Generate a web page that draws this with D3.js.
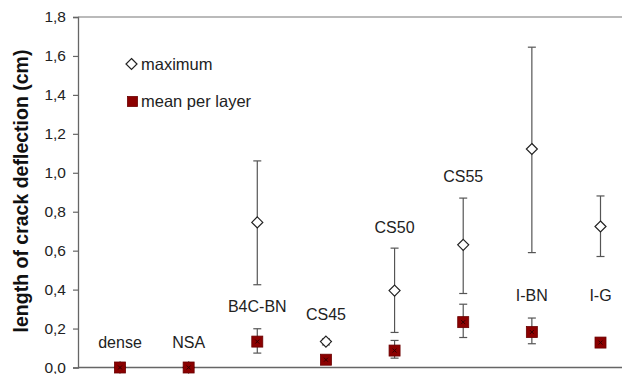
<!DOCTYPE html>
<html>
<head>
<meta charset="utf-8">
<script src="https://cdn.jsdelivr.net/npm/d3@7"></script>
<style>
  body { margin: 0; background: #fff; }
  svg { display: block; font-family: "Liberation Sans", Arial, sans-serif; }
</style>
</head>
<body>
<svg></svg>
<script>
const categories = ["dense", "NSA", "B4C-BN", "CS45", "CS50", "CS55", "I-BN", "I-G"];
// maximum crack deflection with its range
const maxValues = [0, 0, 0.745, 0.133, 0.395, 0.63, 1.122, 0.724];
const maxLow = [0, 0, 0.425, 0.116, 0.18, 0.38, 0.59, 0.57];
const maxHigh = [0, 0, 1.061, 0.147, 0.613, 0.87, 1.645, 0.881];
// mean per layer with its range
const meanValues = [0, 0, 0.133, 0.04, 0.087, 0.233, 0.182, 0.128];
const meanLow = [0, 0, 0.074, 0.04, 0.048, 0.154, 0.122, 0.128];
const meanHigh = [0, 0, 0.199, 0.04, 0.139, 0.325, 0.254, 0.15];
// height (in cm) of each category name
const labelAt = [0.101, 0.101, 0.287, 0.245, 0.69, 0.955, 0.339, 0.339];
const yTicks = [0, 0.2, 0.4, 0.6, 0.8, 1.0, 1.2, 1.4, 1.6, 1.8];

const width = 622;
const height = 374;
const marginLeft = 78;
const plotTop = 17;
const plotBottom = 367.5;

const svg = d3.select("svg").attr("width", width).attr("height", height);

const x = d3.scalePoint().domain(categories).range([120, 600.5]);
const y = d3.scaleLinear().domain([0, 1.8]).range([plotBottom, plotTop]);

const fmt = (d) => d3.format(".1f")(d).replace(".", ",");

// axes
const yAxis = d3.axisLeft(y).tickValues(yTicks).tickFormat(fmt).tickSize(5).tickPadding(7);
const gy = svg.append("g").attr("transform", `translate(${marginLeft},0)`).call(yAxis);
gy.select(".domain").attr("stroke", "#666").attr("stroke-width", 1.3);
gy.selectAll(".tick line").attr("stroke", "#666").attr("stroke-width", 1.2);
gy.selectAll(".tick text").attr("fill", "#222").style("font-size", "15.5px");

svg.append("line")
  .attr("x1", marginLeft).attr("x2", width).attr("y1", y(0)).attr("y2", y(0))
  .attr("stroke", "#666").attr("stroke-width", 1.6);
svg.append("line")
  .attr("x1", marginLeft).attr("x2", width).attr("y1", y(1.8)).attr("y2", y(1.8))
  .attr("stroke", "#777").attr("stroke-width", 1.2);

svg.append("text")
  .attr("transform", "translate(28, 191) rotate(-90)")
  .attr("text-anchor", "middle")
  .attr("font-weight", "bold")
  .attr("fill", "#111")
  .style("font-size", "19.5px")
  .text("length of crack deflection (cm)");

const rows = categories.map((c, i) => ({
  c, max: maxValues[i], maxLo: maxLow[i], maxHi: maxHigh[i],
  mean: meanValues[i], meanLo: meanLow[i], meanHi: meanHigh[i], lab: labelAt[i]
}));

// error bars
const drawErr = (lo, hi) => {
  const g = svg.append("g").attr("stroke", "#555").attr("stroke-width", 1.2);
  rows.filter((d) => d[hi] > d[lo]).forEach((d) => {
    const cx = x(d.c);
    g.append("line").attr("x1", cx).attr("x2", cx).attr("y1", y(d[lo])).attr("y2", y(d[hi]));
    g.append("line").attr("x1", cx - 4).attr("x2", cx + 4).attr("y1", y(d[lo])).attr("y2", y(d[lo]));
    g.append("line").attr("x1", cx - 4).attr("x2", cx + 4).attr("y1", y(d[hi])).attr("y2", y(d[hi]));
  });
};
drawErr("maxLo", "maxHi");
drawErr("meanLo", "meanHi");

const diamond = (g, cx, cy) =>
  g.append("path")
    .attr("d", `M${cx},${cy - 5.5}L${cx + 5.5},${cy}L${cx},${cy + 5.5}L${cx - 5.5},${cy}Z`)
    .attr("fill", "#fff").attr("stroke", "#222").attr("stroke-width", 1.2);

const square = (g, cx, cy) => {
  g.append("rect")
    .attr("x", cx - 5.5).attr("y", cy - 5.5).attr("width", 11).attr("height", 11)
    .attr("fill", "#8b0000").attr("stroke", "#6a0000").attr("stroke-width", 0.8);
  g.append("path")
    .attr("d", `M${cx - 2},${cy - 2}L${cx + 2},${cy + 2}M${cx + 2},${cy - 2}L${cx - 2},${cy + 2}`)
    .attr("stroke", "#300").attr("stroke-width", 1);
};

const marks = svg.append("g");
rows.forEach((d) => diamond(marks, x(d.c), y(d.max)));
rows.forEach((d) => square(marks, x(d.c), y(d.mean)));

// category names
svg.append("g")
  .selectAll("text")
  .data(rows)
  .enter()
  .append("text")
  .attr("x", (d) => x(d.c))
  .attr("y", (d) => y(d.lab))
  .attr("text-anchor", "middle")
  .attr("fill", "#222")
  .style("font-size", "16px")
  .text((d) => d.c);

// legend
const legend = svg.append("g");
diamond(legend, 131.5, 64);
legend.append("text").attr("x", 141).attr("y", 69.5).attr("fill", "#222")
  .style("font-size", "16.5px").text("maximum");
legend.append("rect")
  .attr("x", 127.5).attr("y", 96.5).attr("width", 10).attr("height", 10)
  .attr("fill", "#8b0000").attr("stroke", "#6a0000").attr("stroke-width", 0.8);
legend.append("text").attr("x", 141).attr("y", 106.5).attr("fill", "#222")
  .style("font-size", "16.5px").text("mean per layer");
</script>
</body>
</html>
